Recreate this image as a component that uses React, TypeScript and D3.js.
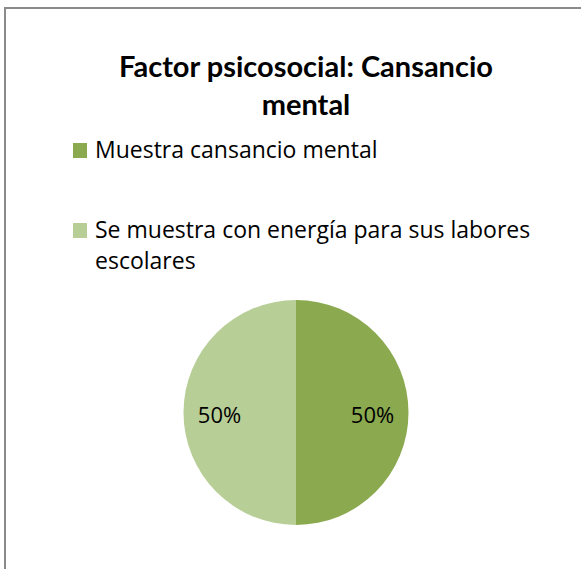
import React, { useEffect, useRef } from 'react'
import * as d3 from 'd3';

const title = ['Factor psicosocial: Cansancio', 'mental'];
const categories = ['Muestra cansancio mental', 'Se muestra con energía para sus labores escolares'];
const legendLines = [['Muestra cansancio mental'], ['Se muestra con energía para sus labores', 'escolares']];
const values = [50, 50];
const colors = ['#8BA94F', '#B8CE97'];

export default function App() {
    const svgRef = useRef<SVGSVGElement>(null);

    useEffect(() => {
        const width = 581;
        const height = 569;
        const titleFont = 'Lato, "Open Sans", sans-serif';
        const font = '"Open Sans", Lato, sans-serif';

        const svg = d3.select(svgRef.current)
            .attr('width', width)
            .attr('height', height);
        svg.selectAll('*').remove();

        svg.append('rect')
            .attr('width', width)
            .attr('height', height)
            .attr('fill', '#fff');

        // chart border (runs off the right and bottom)
        svg.append('rect')
            .attr('x', 5)
            .attr('y', 8)
            .attr('width', width + 10)
            .attr('height', height + 10)
            .attr('fill', 'none')
            .attr('stroke', '#8a8a8a')
            .attr('stroke-width', 2);

        // title
        svg.append('text')
            .attr('font-family', titleFont)
            .attr('font-weight', 'bold')
            .attr('font-size', 29)
            .attr('text-anchor', 'middle')
            .attr('fill', '#000')
            .selectAll('tspan')
            .data(title)
            .enter().append('tspan')
            .attr('x', 306)
            .attr('y', (d, i) => 77 + i * 38)
            .text(d => d);

        // legend
        const legendY = d3.scaleOrdinal<string, number>().domain(categories).range([158, 238]);
        const legend = svg.append('g')
            .selectAll('g')
            .data(categories)
            .enter().append('g');

        legend.append('rect')
            .attr('x', 73)
            .attr('y', d => legendY(d) - 15)
            .attr('width', 14)
            .attr('height', 15)
            .attr('fill', (d, i) => colors[i]);

        legend.append('text')
            .attr('font-family', font)
            .attr('font-size', 23)
            .attr('fill', '#000')
            .selectAll('tspan')
            .data((d, i) => legendLines[i].map(line => ({ line, y: legendY(d) })))
            .enter().append('tspan')
            .attr('x', 95)
            .attr('y', (d, j) => d.y + j * 31)
            .text(d => d.line);

        // pie
        const radius = 112.5;
        const cx = 296;
        const cy = 412.5;
        const pie = d3.pie<number>().sort(null)(values);
        const arc = d3.arc<d3.PieArcDatum<number>>().innerRadius(0).outerRadius(radius);
        const labelArc = d3.arc<d3.PieArcDatum<number>>().innerRadius(radius * 0.68).outerRadius(radius * 0.68);
        const total = d3.sum(values);

        const g = svg.append('g').attr('transform', `translate(${cx},${cy})`);
        g.selectAll('path')
            .data(pie)
            .enter().append('path')
            .attr('d', arc)
            .attr('fill', (d, i) => colors[i]);

        g.selectAll('text')
            .data(pie)
            .enter().append('text')
            .attr('transform', d => `translate(${labelArc.centroid(d)})`)
            .attr('y', 10)
            .attr('text-anchor', 'middle')
            .attr('font-family', font)
            .attr('font-size', 22)
            .attr('fill', '#000')
            .text(d => `${Math.round(d.value / total * 100)}%`);
    }, []);

    return (
        <svg ref={svgRef} style={{ position: 'absolute', left: 0, top: 0 }}></svg>
    );
}
